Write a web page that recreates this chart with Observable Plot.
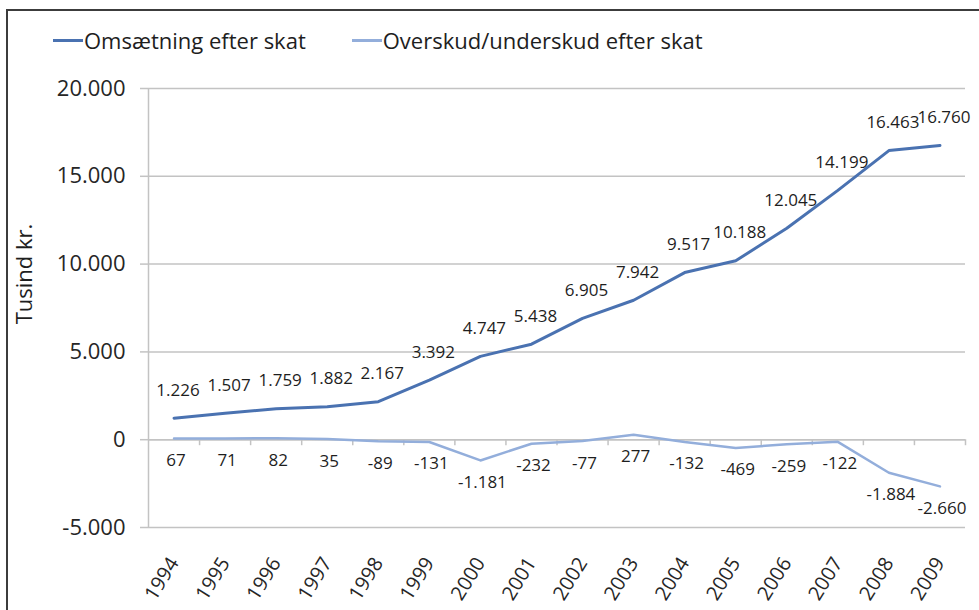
<!DOCTYPE html>
<html><head><meta charset="utf-8">
<script src="https://cdn.jsdelivr.net/npm/d3@7"></script>
<script src="https://cdn.jsdelivr.net/npm/@observablehq/plot@0.6"></script>
<style>
body{margin:0;background:#fff;font-family:"Open Sans",sans-serif;}
#wrap{position:relative;width:979px;height:610px;overflow:hidden;background:#fff;}
#chart{position:absolute;left:0;top:0;}
#frame{position:absolute;left:6px;top:9px;width:990px;height:620px;border-left:2px solid #3c3c3c;border-top:2px solid #3c3c3c;box-sizing:border-box;pointer-events:none;}
#legend{position:absolute;top:25px;left:53px;display:flex;align-items:center;font-size:22px;color:#1e1e1e;white-space:nowrap;}
.item{display:flex;align-items:center;margin-right:46px;}
.sw{display:inline-block;width:30px;height:3px;margin-right:1px;}
</style></head><body>
<div id="wrap"><div id="chart"></div><div id="frame"></div><div id="legend"></div></div>
<script>
// ---- data ----
const years = [1994,1995,1996,1997,1998,1999,2000,2001,2002,2003,2004,2005,2006,2007,2008,2009];
const omsaetning = [1226,1507,1759,1882,2167,3392,4747,5438,6905,7942,9517,10188,12045,14199,16463,16760];
const overskud = [67,71,82,35,-89,-131,-1181,-232,-77,277,-132,-469,-259,-122,-1884,-2660];
const seriesNames = ["Omsætning efter skat","Overskud/underskud efter skat"];
const seriesColors = ["#4a72b1","#93aedb"];
const yTicks = [-5000,0,5000,10000,15000,20000];
const yLabel = "Tusind kr.";

// ---- build ----
const fmt = d3.formatLocale({decimal:",",thousands:".",grouping:[3],currency:["","kr."],minus:"-"}).format(",d");
const rows1 = years.map((y,i)=>({year:y,value:omsaetning[i]}));
const rows2 = years.map((y,i)=>({year:y,value:overskud[i]}));
const bounds = years.map(y=>y-0.5).concat([years[years.length-1]+0.5]);

const chart = Plot.plot({
  width:979, height:610,
  marginLeft:148, marginRight:14, marginTop:88, marginBottom:83,
  style:{fontFamily:"Open Sans, sans-serif", background:"transparent", color:"#262626"},
  x:{domain:[years[0]-0.5, years[years.length-1]+0.5], label:null},
  y:{domain:[yTicks[0], yTicks[yTicks.length-1]], label:null},
  marks:[
    Plot.gridY(yTicks,{stroke:"#c3c3c3", strokeOpacity:1, strokeWidth:1.5}),
    Plot.ruleX([bounds[0]],{y1:yTicks[0], y2:yTicks[yTicks.length-1], stroke:"#c3c3c3", strokeWidth:1.5}),
    Plot.ruleY([0],{stroke:"#c3c3c3", strokeWidth:1.5}),
    Plot.ruleX(bounds.slice(1),{y1:0, y2:0, insetBottom:-6, stroke:"#c3c3c3", strokeWidth:1.5}),
    Plot.axisY(yTicks,{tickSize:8, tickPadding:15, fontSize:22, tickFormat:fmt, stroke:"#c3c3c3", strokeWidth:1.5, fill:"#262626", label:null}),
    Plot.axisX(years,{tickSize:0, tickPadding:32, tickRotate:-58, fontSize:20, tickFormat:d=>String(d), fill:"#262626", label:null}),
    Plot.line(rows2,{x:"year", y:"value", stroke:seriesColors[1], strokeWidth:2.5}),
    Plot.line(rows1,{x:"year", y:"value", stroke:seriesColors[0], strokeWidth:3}),
    Plot.text(rows1,{x:"year", y:"value", text:d=>fmt(d.value), dx:4, dy:-28, fontSize:17, fill:"#1e1e1e"}),
    Plot.text(rows2,{x:"year", y:"value", text:d=>fmt(d.value), dx:2, dy:22, fontSize:17, fill:"#1e1e1e"}),
    Plot.text([yLabel],{text:d=>d, frameAnchor:"left", textAnchor:"middle", dx:-124, dy:-34, rotate:-90, fontSize:22, fill:"#1e1e1e"})
  ]
});
document.getElementById("chart").appendChild(chart);

const legend = document.getElementById("legend");
seriesNames.forEach((n,i)=>{
  const it = document.createElement("span"); it.className="item";
  const sw = document.createElement("span"); sw.className="sw"; sw.style.background=seriesColors[i];
  const tx = document.createElement("span"); tx.textContent=n;
  it.appendChild(sw); it.appendChild(tx); legend.appendChild(it);
});
</script>
</body></html>
